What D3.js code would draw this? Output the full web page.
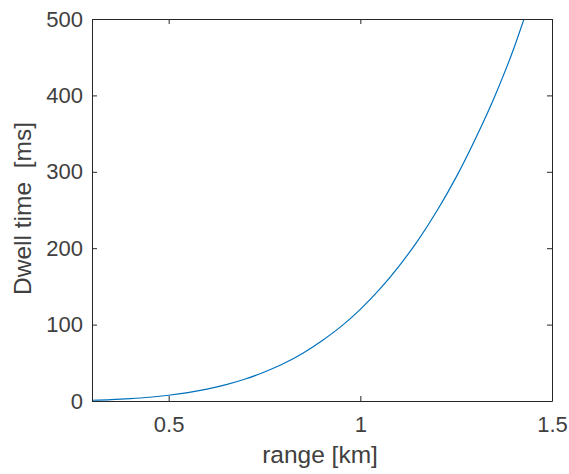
<!DOCTYPE html>
<html>
<head>
<meta charset="utf-8">
<script src="https://cdn.jsdelivr.net/npm/d3@7"></script>
<style>
  body { margin: 0; background: #fff; }
  text { font-family: "Liberation Sans", Arial, sans-serif; }
</style>
</head>
<body>
<div id="chart"></div>
<script>
// values
var rangeKm = [0.3, 0.35, 0.4, 0.45, 0.5, 0.55, 0.6, 0.65, 0.7, 0.75, 0.8, 0.85, 0.9, 0.95,
  1.0, 1.05, 1.1, 1.15, 1.2, 1.25, 1.3, 1.35, 1.4, 1.427];
var dwellMs = [1.0, 1.8, 3.1, 4.9, 7.5, 11, 15.6, 21.4, 28.8, 38, 49, 62.6, 79, 97.7,
  120, 146, 176, 210, 249, 293, 343, 398, 461, 500];
var xTicks = [0.5, 1, 1.5];
var yTicks = [0, 100, 200, 300, 400, 500];

var margin = { top: 19, right: 17, bottom: 73, left: 92 },
  width = 569 - margin.left - margin.right,
  height = 474 - margin.top - margin.bottom;

var ink = "#262626", textInk = "#404040";

var svg = d3.select("#chart")
  .append("svg")
  .attr("width", 569)
  .attr("height", 474)
  .append("g")
  .attr("transform", "translate(" + margin.left + "," + margin.top + ")");

var x = d3.scaleLinear().domain([0.3, 1.5]).range([0, width]);
var y = d3.scaleLinear().domain([0, 500]).range([height, 0]);

svg.append("defs").append("clipPath").attr("id", "clip")
  .append("rect").attr("width", width).attr("height", height);

var line = d3.line()
  .x(function (d, i) { return x(rangeKm[i]); })
  .y(function (d) { return y(d); })
  .curve(d3.curveMonotoneX);

svg.append("path")
  .datum(dwellMs)
  .attr("clip-path", "url(#clip)")
  .attr("fill", "none")
  .attr("stroke", "#0072BD")
  .attr("stroke-width", 1.2)
  .attr("d", line);

function styleAxis(g) {
  g.select(".domain").attr("stroke", ink).attr("stroke-width", 1);
  g.selectAll(".tick line").attr("stroke", ink);
  g.selectAll(".tick text").attr("fill", textInk).style("font-size", "22px");
}

// bottom + top
svg.append("g")
  .attr("transform", "translate(0," + height + ")")
  .call(d3.axisBottom(x).tickValues(xTicks).tickFormat(d3.format("")).tickSizeInner(-5).tickSizeOuter(0).tickPadding(15))
  .call(styleAxis);
svg.append("g")
  .call(d3.axisTop(x).tickValues(xTicks).tickFormat("").tickSizeInner(-5).tickSizeOuter(0))
  .call(styleAxis);

// left + right
svg.append("g")
  .call(d3.axisLeft(y).tickValues(yTicks).tickSizeInner(-5).tickSizeOuter(0).tickPadding(9))
  .call(styleAxis);
svg.append("g")
  .attr("transform", "translate(" + width + ",0)")
  .call(d3.axisRight(y).tickValues(yTicks).tickFormat("").tickSizeInner(-5).tickSizeOuter(0))
  .call(styleAxis);

svg.selectAll(".domain").attr("fill", "none");

svg.append("text")
  .attr("x", width / 2 - 2)
  .attr("y", height + 62)
  .attr("text-anchor", "middle")
  .attr("fill", textInk)
  .style("font-size", "24.5px")
  .text("range [km]");

svg.append("text")
  .attr("transform", "translate(" + (-61) + "," + (height / 2 - 1.5) + ") rotate(-90)")
  .attr("text-anchor", "middle")
  .attr("fill", textInk)
  .style("font-size", "24.5px")
  .style("white-space", "pre")
  .attr("xml:space", "preserve")
  .text("Dwell time  [ms]");
</script>
</body>
</html>
